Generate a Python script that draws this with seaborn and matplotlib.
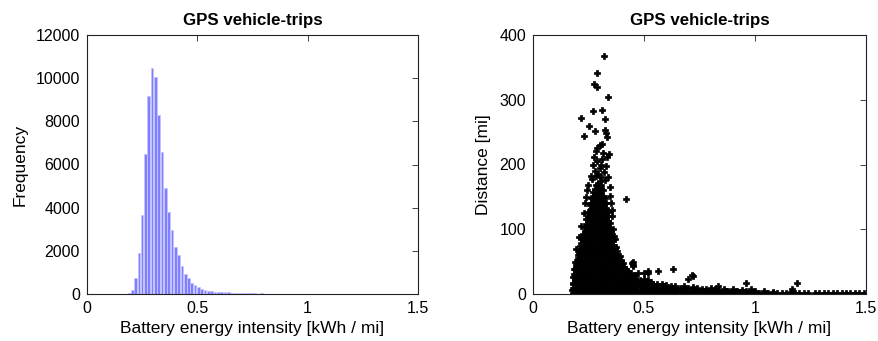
import numpy as np
import pandas as pd
import matplotlib
matplotlib.use("Agg")
import matplotlib.pyplot as plt
import seaborn as sns

# ---------------- data ----------------
# Histogram (left): bin centres [kWh/mi] and counts
bin_centers = [0.190, 0.205, 0.220, 0.235, 0.250, 0.265, 0.280, 0.295, 0.310, 0.325,
               0.340, 0.355, 0.370, 0.385, 0.400, 0.415, 0.430, 0.445, 0.460, 0.475,
               0.490, 0.505, 0.520, 0.535, 0.550, 0.565, 0.580, 0.595, 0.610, 0.625,
               0.640, 0.655, 0.670, 0.685, 0.700, 0.715, 0.730, 0.745, 0.760, 0.775,
               0.790]
counts = [30, 170, 740, 1890, 3640, 6470, 9170, 10450, 10070, 8290,
          6570, 4900, 3790, 2970, 2180, 1795, 1285, 945, 740, 495,
          405, 320, 250, 205, 155, 125, 110, 95, 80, 80,
          75, 60, 55, 50, 45, 40, 35, 30, 30, 10,
          25]
bin_width = 0.015

# Scatter (right): dense core, by intensity column -> distances
core_cols = [0.180, 0.195, 0.210, 0.225, 0.240, 0.255, 0.270, 0.285, 0.300, 0.315,
             0.330, 0.345, 0.360, 0.375, 0.390, 0.405, 0.420, 0.435, 0.450]
core_dist = [
    [2, 10, 17, 26],
    [5, 13, 22, 30, 38, 46],
    [1, 9, 16, 24, 33, 41, 49, 57, 66, 74],
    [4, 11, 19, 28, 36, 44, 53, 61, 69, 77, 86, 93],
    [2, 9, 17, 26, 34, 42, 50, 59, 67, 75, 83, 92, 100, 108, 116],
    [5, 13, 21, 29, 38, 46, 54, 62, 70, 79, 87, 95, 103, 112, 120, 128, 137],
    [1, 9, 17, 25, 33, 42, 50, 58, 66, 74, 83, 91, 99, 107, 115, 124, 132, 140, 149, 157],
    [4, 12, 20, 29, 37, 45, 53, 61, 70, 78, 86, 94, 102, 111, 119, 127, 135, 143, 152, 160, 168],
    [2, 10, 18, 26, 34, 43, 51, 59, 67, 75, 84, 92, 100, 108, 116, 125, 133, 141, 149, 157, 166, 174],
    [5, 13, 21, 29, 37, 46, 54, 62, 70, 78, 87, 95, 103, 111, 119, 128, 136, 144, 152, 161],
    [1, 9, 17, 25, 34, 42, 50, 58, 66, 75, 83, 91, 99, 107, 116, 124, 133, 141],
    [4, 12, 20, 28, 36, 45, 53, 61, 69, 77, 86, 94, 102, 110],
    [2, 10, 18, 26, 34, 43, 51, 59, 67, 76, 83],
    [5, 13, 21, 29, 37, 46, 54, 62],
    [1, 9, 17, 25, 33, 42, 49],
    [4, 12, 20, 28, 36],
    [2, 10, 18, 26, 33],
    [5, 13, 21, 29],
    [1, 9, 17, 26],
]
# trips lying between the columns above
mid_cols = [0.1875, 0.2025, 0.2175, 0.2325, 0.2475, 0.2625, 0.2775, 0.2925, 0.3075,
            0.3225, 0.3375, 0.3525, 0.3675, 0.3825, 0.3975, 0.4125, 0.4275, 0.4425]
mid_dist = [
    [6, 14, 21, 30, 38],
    [2, 9, 18, 26, 34, 42, 51, 60],
    [5, 13, 20, 29, 37, 45, 53, 62, 70, 79, 86],
    [1, 8, 15, 23, 32, 40, 48, 57, 65, 73, 81, 89, 97, 104],
    [6, 13, 22, 30, 38, 46, 55, 63, 71, 79, 88, 96, 104, 112, 120, 127],
    [3, 10, 17, 25, 33, 41, 50, 58, 66, 74, 82, 91, 99, 107, 115, 124, 132, 141, 148],
    [6, 14, 22, 30, 39, 47, 55, 63, 71, 80, 88, 96, 104, 113, 121, 129, 137, 145, 154, 162],
    [1, 8, 16, 24, 32, 40, 48, 57, 65, 73, 81, 89, 98, 106, 114, 122, 130, 138, 147, 155, 163, 170],
    [6, 14, 22, 30, 38, 47, 55, 63, 71, 80, 88, 96, 104, 112, 121, 129, 137, 145, 153, 162, 168],
    [3, 9, 17, 25, 33, 41, 50, 58, 66, 74, 82, 91, 99, 107, 115, 123, 132, 140, 148],
    [6, 13, 21, 29, 38, 46, 54, 62, 71, 79, 87, 95, 103, 112, 120, 127],
    [1, 8, 16, 24, 32, 40, 49, 57, 65, 73, 81, 90, 96],
    [6, 14, 22, 30, 39, 47, 55, 63, 71],
    [3, 11, 19, 27, 35, 43, 52],
    [6, 14, 22, 30, 38, 44],
    [1, 8, 16, 24, 32],
    [6, 14, 22, 30],
    [2, 9, 17, 24],
]

# scattered outer trips
halo_x = [0.320, 0.287, 0.276, 0.287, 0.336, 0.269, 0.312, 0.215, 0.323, 0.254,
          0.279, 0.230, 0.326, 0.329, 0.335, 0.300, 0.290, 0.310, 0.285, 0.344,
          0.417, 0.270, 0.290, 0.310, 0.330, 0.280, 0.320, 0.262, 0.340, 0.300,
          0.295, 0.335, 0.315, 0.305, 0.275, 0.250, 0.245, 0.240, 0.235, 0.230,
          0.215, 0.205, 0.195, 0.190, 0.185, 0.345, 0.350, 0.355, 0.360, 0.365,
          0.370, 0.375, 0.380, 0.390, 0.395, 0.405, 0.410, 0.420, 0.430, 0.440,
          0.445, 0.450, 0.449, 0.460, 0.475, 0.500, 0.520, 0.517, 0.565, 0.632,
          0.700, 0.720, 0.718, 0.835, 0.959, 1.190, 1.165, 0.452, 0.355, 0.345,
          0.265, 0.325, 0.283, 0.308, 0.176, 0.178, 0.186, 0.192, 0.201, 0.207]
halo_y = [368, 342, 325, 320, 304, 282, 284, 272, 271, 259,
          251, 244, 254, 249, 242, 230, 226, 232, 221, 216,
          146, 200, 205, 208, 198, 190, 188, 182, 180, 195,
          185, 212, 218, 200, 212, 168, 160, 150, 140, 125,
          105, 88, 70, 50, 38, 152, 140, 120, 100, 90,
          85, 72, 66, 58, 52, 48, 42, 38, 35, 33,
          48, 45, 50, 30, 33, 32, 33, 36, 36, 38,
          23, 28, 29, 12, 17, 17, 7, 43, 130, 165,
          178, 176, 183, 180, 6, 15, 31, 42, 55, 63]

# long low-distance tail
tail_x = [0.46, 0.46, 0.46, 0.46, 0.48, 0.48, 0.48, 0.48, 0.50, 0.50, 0.50, 0.50,
          0.52, 0.52, 0.52, 0.52, 0.54, 0.54, 0.54, 0.56, 0.56, 0.56, 0.58, 0.58, 0.58,
          0.60, 0.60, 0.60, 0.62, 0.62, 0.62, 0.64, 0.64, 0.64, 0.66, 0.66, 0.68, 0.68, 0.68,
          0.70, 0.70, 0.72, 0.72, 0.72, 0.74, 0.74, 0.76, 0.76, 0.78, 0.78, 0.80, 0.80, 0.80,
          0.82, 0.82, 0.84, 0.84, 0.86, 0.86, 0.88, 0.88, 0.90, 0.90, 0.92, 0.92, 0.94, 0.94,
          0.96, 0.96, 0.98, 0.98, 1.00, 1.00, 1.02, 1.04, 1.04, 1.06, 1.08, 1.08, 1.10, 1.12,
          1.14, 1.16, 1.16, 1.18, 1.20, 1.22, 1.24, 1.27, 1.29, 1.31, 1.33, 1.35, 1.37, 1.39,
          1.41, 1.43, 1.45, 1.47, 1.49,
          0.47, 0.47, 0.47, 0.49, 0.49, 0.49, 0.51, 0.51, 0.51, 0.53, 0.53, 0.53,
          0.55, 0.55, 0.57, 0.57, 0.59, 0.59, 0.61, 0.61, 0.63, 0.63, 0.65, 0.65,
          0.67, 0.69, 0.71, 0.73, 0.75, 0.77, 0.79, 0.81, 0.83, 0.85, 0.87, 0.89,
          0.91, 0.93, 0.95, 0.97, 0.99]
tail_y = [2, 10, 18, 25, 1, 8, 15, 22, 3, 10, 17, 23,
          1, 8, 15, 21, 2, 9, 16, 1, 8, 15, 3, 10, 16,
          1, 7, 14, 2, 9, 13, 1, 7, 12, 3, 10, 1, 7, 12,
          2, 9, 1, 7, 11, 3, 9, 1, 7, 2, 8, 1, 6, 10,
          3, 8, 1, 6, 2, 7, 1, 5, 3, 8, 1, 5, 2, 6,
          1, 4, 3, 7, 1, 5, 2, 1, 4, 2, 1, 3, 2, 1,
          2, 1, 3, 2, 1, 2, 1, 2, 1, 2, 1, 1, 2, 1,
          1, 2, 1, 1, 2,
          5, 13, 20, 4, 12, 19, 6, 13, 20, 4, 11, 18,
          5, 12, 4, 11, 5, 12, 4, 10, 5, 10, 4, 8,
          5, 4, 5, 4, 5, 4, 4, 3, 4, 3, 4, 3,
          3, 3, 3, 2, 3]

# ---------------- build tables ----------------
hist_df = pd.DataFrame({"center": np.asarray(bin_centers, dtype=float),
                        "count": np.asarray(counts, dtype=float)})

sx, sy = [], []
for cols, dists in [(core_cols, core_dist), (mid_cols, mid_dist)]:
    for cx, ys in zip(cols, dists):
        sx += [cx] * len(ys)
        sy += ys
sx += halo_x + tail_x
sy += halo_y + tail_y
trips = pd.DataFrame({"intensity": sx, "distance": sy})

# ---------------- plot ----------------
sns.set_style("white")
plt.rcParams['font.family'] = ['Liberation Sans', 'DejaVu Sans']
plt.rcParams['text.color'] = 'black'
plt.rcParams['axes.labelcolor'] = 'black'

W, H = 879, 341
fig = plt.figure(figsize=(W / 100, H / 100), dpi=100)
ax1 = fig.add_axes([87 / W, 47 / H, 331 / W, 259 / H])
ax2 = fig.add_axes([533 / W, 47 / H, 333 / W, 259 / H])

edges = list(np.append(np.asarray(bin_centers) - bin_width / 2,
                       bin_centers[-1] + bin_width / 2))
sns.histplot(data=hist_df, x="center", weights="count", bins=edges, ax=ax1,
             color='#7f7fff', alpha=1.0, edgecolor='#c4c4ff', linewidth=0.6,
             shrink=0.8)

sns.scatterplot(data=trips, x="intensity", y="distance", ax=ax2,
                marker='P', s=14, color='black', edgecolor='black',
                linewidth=0.5)

for ax, ylab, ymax, yt in [(ax1, 'Frequency', 12000, np.arange(0, 12001, 2000)),
                           (ax2, 'Distance [mi]', 400, np.arange(0, 401, 100))]:
    ax.set_xlim(0, 1.5)
    ax.set_ylim(0, ymax)
    ax.set_xticks([0, 0.5, 1, 1.5])
    ax.set_xticklabels(['0', '0.5', '1', '1.5'])
    ax.set_yticks(yt)
    ax.set_yticklabels([str(int(v)) for v in yt])
    ax.tick_params(direction='in', top=True, right=True, length=4, width=0.6,
                   labelsize=11.5, colors='#222222', labelcolor='black', pad=5)
    for sp in ax.spines.values():
        sp.set_visible(True)
        sp.set_color('#222222')
        sp.set_linewidth(0.8)
    ax.set_xlabel('Battery energy intensity [kWh / mi]', fontsize=12.5, labelpad=4,
                  color='black')
    ax.set_ylabel(ylab, fontsize=12.5, labelpad=6, color='black')
    ax.set_title('GPS vehicle-trips', fontsize=12.2, fontweight='bold', pad=7,
                 color='black')

fig.savefig('out.png', dpi=100, facecolor='white')
